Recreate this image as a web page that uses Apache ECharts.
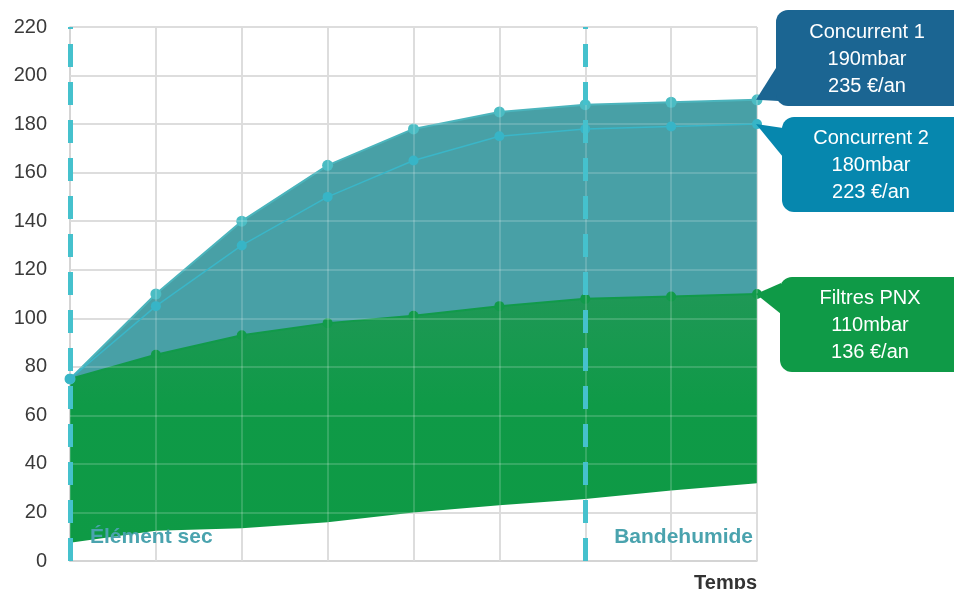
<!DOCTYPE html>
<html>
<head>
<meta charset="utf-8">
<script src="https://cdn.jsdelivr.net/npm/echarts@6/dist/echarts.min.js"></script>
<style>
html,body{margin:0;padding:0;background:#fff;}
#chart{width:954px;height:589px;}
</style>
</head>
<body>
<div id="chart"></div>
<script>
// ---- data ----
const categories = ['t0','t1','t2','t3','t4','t5','t6','t7','t8'];
const concurrent1 = [75, 110, 140, 163, 178, 185, 188, 189, 190];
const concurrent2 = [75, 105, 130, 150, 165, 175, 178, 179, 180];
const filtresPNX  = [75, 85, 93, 98, 101, 105, 108, 109, 110];
const lowerBound  = [7.5, 12.5, 13.5, 16, 20, 23, 25.5, 29, 32];
const yTicks = [0, 20, 40, 60, 80, 100, 120, 140, 160, 180, 200, 220];
const phaseIndices = [0, 6];
const phaseLabels = ['Élément sec', 'Bandehumide'];
const calloutNames = ['Concurrent 1', 'Concurrent 2', 'Filtres PNX'];
const calloutPressure = ['190mbar', '180mbar', '110mbar'];
const calloutCost = ['235 €/an', '223 €/an', '136 €/an'];
const xAxisName = 'Temps';

// derived stacked bands
const greenBand = filtresPNX.map((v, i) => v - lowerBound[i]);
const tealBand = concurrent1.map((v, i) => v - filtresPNX[i]);

const FONT = '"Liberation Sans", Arial, sans-serif';
const chart = echarts.init(document.getElementById('chart'), null, {renderer: 'canvas'});

const yMin = yTicks[0], yMax = yTicks[yTicks.length - 1], yInt = yTicks[1] - yTicks[0];

const option = {
  animation: false,
  grid: {left: 70, right: 197, top: 27, bottom: 28, containLabel: false},
  xAxis: [{
    type: 'category', data: categories, boundaryGap: false,
    axisLine: {show: true, lineStyle: {color: '#c8c8c8', width: 1.5}},
    axisTick: {show: false}, axisLabel: {show: false},
    splitLine: {show: true, interval: 0, lineStyle: {color: '#c8c8c8', width: 1.5}}
  }, {
    type: 'category', data: categories, boundaryGap: false, position: 'top', z: 3,
    axisLine: {show: false}, axisTick: {show: false}, axisLabel: {show: false},
    splitLine: {show: true, interval: 0, lineStyle: {color: 'rgba(255,255,255,0.22)', width: 1.5}}
  }],
  yAxis: [{
    type: 'value', min: yMin, max: yMax, interval: yInt,
    axisLine: {show: true, lineStyle: {color: '#c8c8c8', width: 1.5}},
    axisTick: {show: false},
    axisLabel: {color: '#3a3a3a', fontSize: 20, fontFamily: FONT, margin: 23},
    splitLine: {show: true, lineStyle: {color: '#c8c8c8', width: 1.5}}
  }, {
    type: 'value', min: yMin, max: yMax, interval: yInt, position: 'right', z: 3,
    axisLine: {show: false}, axisTick: {show: false}, axisLabel: {show: false},
    splitLine: {show: true, lineStyle: {color: 'rgba(255,255,255,0.22)', width: 1.5}}
  }],
  series: [
    {
      name: 'base', type: 'line', stack: 'band', data: lowerBound,
      symbol: 'none', lineStyle: {width: 0, opacity: 0}, silent: true, z: 2,
      markLine: {
        silent: true, symbol: 'none', z: 10,
        label: {show: false},
        lineStyle: {color: '#45c1cd', width: 5, type: [23, 15]},
        data: phaseIndices.map(i => ({xAxis: categories[i]}))
      }
    },
    {
      name: 'Filtres PNX', type: 'line', stack: 'band', data: greenBand,
      symbol: 'circle', symbolSize: 10, showSymbol: true,
      itemStyle: {color: '#119a4a'},
      lineStyle: {color: '#119a4a', width: 2},
      areaStyle: {opacity: 1, color: new echarts.graphic.LinearGradient(0, 0, 0, 1, [
        {offset: 0, color: '#1f9856'}, {offset: 0.45, color: '#0f9a47'}, {offset: 1, color: '#0e9a45'}
      ])},
      z: 2
    },
    {
      name: 'Concurrent 1', type: 'line', stack: 'band', data: tealBand,
      symbol: 'circle', symbolSize: 11, showSymbol: true,
      itemStyle: {color: '#4bbcc3'},
      lineStyle: {color: '#4bb4bc', width: 2},
      areaStyle: {opacity: 1, color: '#48a0a6'},
      z: 2
    },
    {
      name: 'Concurrent 2', type: 'line', data: concurrent2,
      symbol: 'circle', symbolSize: 10, showSymbol: true,
      itemStyle: {color: '#37b5c7'},
      lineStyle: {color: '#3ab6c8', width: 1.5},
      z: 3
    }
  ]
};
chart.setOption(option);

// ---- annotations positioned from the data scales ----
const last = categories.length - 1;
const px = (i, v) => chart.convertToPixel({xAxisIndex: 0, yAxisIndex: 0}, [i, v]);
const tips = [px(last, concurrent1[last]), px(last, concurrent2[last]), px(last, filtresPNX[last])];
const boxColors = ['#1b6592', '#0687ae', '#0f9a47'];
const boxes = [
  {x: 776, y: 10, w: 190, h: 96, ptr: [[776, 68], [779, 101]], tx: 867},
  {x: 782, y: 117, w: 190, h: 95, ptr: [[783, 128], [783, 157]], tx: 871},
  {x: 780, y: 277, w: 190, h: 95, ptr: [[781, 283], [781, 314]], tx: 870}
];
const graphics = [];
boxes.forEach((b, k) => {
  const tip = tips[k];
  graphics.push({
    type: 'polygon', z: 20,
    shape: {points: [[tip[0] - 1, tip[1]], b.ptr[0], b.ptr[1]]},
    style: {fill: boxColors[k]}
  });
  graphics.push({
    type: 'rect', z: 20,
    shape: {x: b.x, y: b.y, width: b.w, height: b.h, r: 12},
    style: {fill: boxColors[k]}
  });
  graphics.push({
    type: 'text', z: 21, x: b.tx, y: b.y + b.h / 2 + 1,
    style: {
      text: calloutNames[k] + '\n' + calloutPressure[k] + '\n' + calloutCost[k],
      fill: '#ffffff', font: '20px ' + FONT, align: 'center', verticalAlign: 'middle', lineHeight: 27
    }
  });
});
const p0 = px(phaseIndices[0], 0);
const pEnd = px(last, 0);
const labelY = p0[1] - 24;
graphics.push({
  type: 'text', z: 21, x: p0[0] + 20, y: labelY,
  style: {text: phaseLabels[0], fill: '#4aa3ae', font: 'bold 21px ' + FONT, align: 'left', verticalAlign: 'middle'}
});
graphics.push({
  type: 'text', z: 21, x: pEnd[0] - 4, y: labelY,
  style: {text: phaseLabels[1], fill: '#4aa3ae', font: 'bold 21px ' + FONT, align: 'right', verticalAlign: 'middle'}
});
graphics.push({
  type: 'text', z: 21, x: pEnd[0], y: p0[1] + 22,
  style: {text: xAxisName, fill: '#333333', font: 'bold 20px ' + FONT, align: 'right', verticalAlign: 'middle'}
});
chart.setOption({graphic: graphics});
</script>
</body>
</html>
